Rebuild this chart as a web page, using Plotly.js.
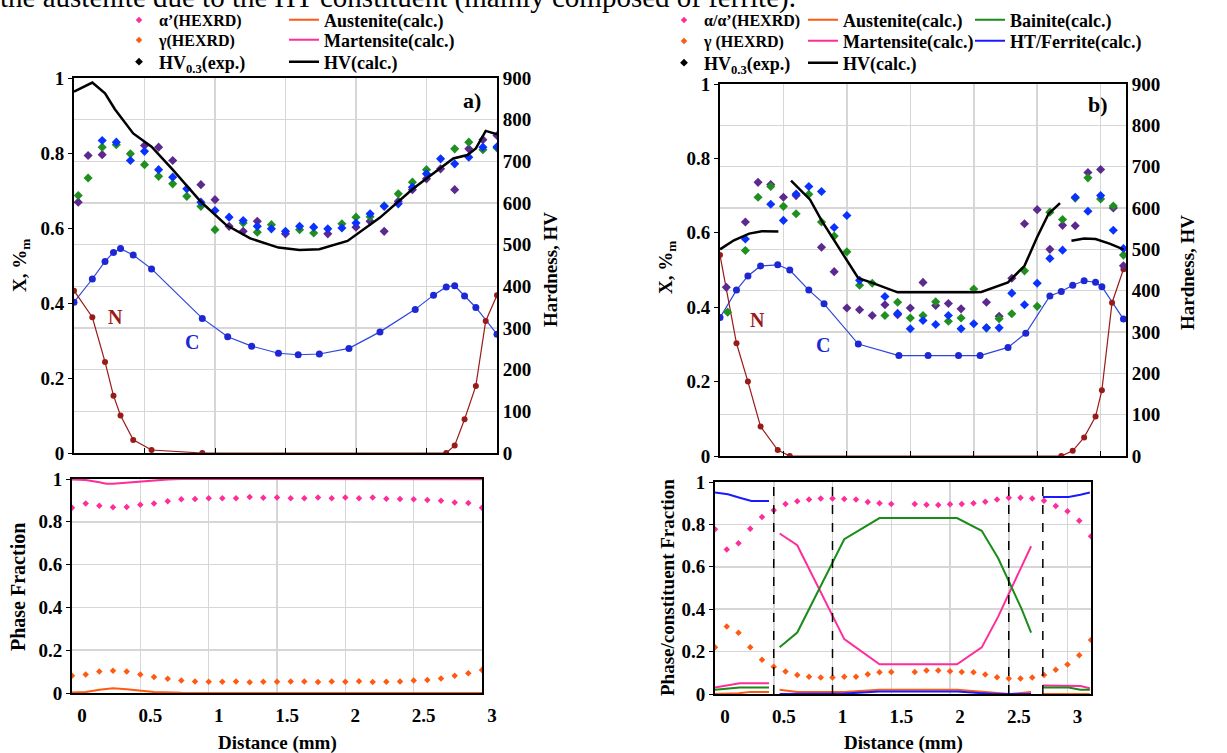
<!DOCTYPE html>
<html><head><meta charset="utf-8">
<script src="https://cdn.plot.ly/plotly-3.0.1.min.js"></script>
<style>html,body{margin:0;padding:0;background:#fff}#chart{width:1227px;height:753px}</style>
</head><body><div id="chart"></div><script>
// ---------------- DATA: panel a) ----------------
const aC_x = [0, 0.13, 0.22, 0.28, 0.33, 0.42, 0.55, 0.91, 1.09, 1.26, 1.45, 1.59, 1.74, 1.95, 2.17, 2.42, 2.55, 2.64, 2.70, 2.77, 2.85, 3.0];
const aC_y = [0.402, 0.464, 0.511, 0.535, 0.545, 0.528, 0.491, 0.359, 0.310, 0.285, 0.266, 0.262, 0.264, 0.279, 0.323, 0.383, 0.421, 0.443, 0.446, 0.419, 0.388, 0.317];
const aN_x = [0, 0.13, 0.22, 0.28, 0.33, 0.42, 0.55, 0.91, 2.64, 2.70, 2.77, 2.85, 2.92, 3.0];
const aN_y = [0.433, 0.362, 0.243, 0.153, 0.100, 0.035, 0.008, 0, 0, 0.020, 0.090, 0.179, 0.352, 0.421];
const aHVcalc_x = [0, 0.13, 0.22, 0.29, 0.42, 0.50, 0.55, 0.70, 0.90, 1.08, 1.25, 1.45, 1.60, 1.74, 1.94, 2.17, 2.31, 2.40, 2.50, 2.69, 2.79, 2.85, 2.92, 3.0];
const aHVcalc = [867, 889, 863, 825, 767, 747, 735, 680, 603, 547, 515, 493, 487, 489, 509, 565, 607, 633, 659, 707, 715, 731, 773, 765];
const aHV1_x = [0.03, 0.1, 0.2, 0.5, 0.6, 0.7, 0.9, 1.0, 1.1, 1.2, 1.3, 1.5, 1.8, 2.0, 2.1, 2.2, 2.3, 2.4, 2.5, 2.6, 2.7, 2.8, 2.9, 3.0];
const aHV1 = [602, 714, 716, 738, 734, 702, 644, 608, 544, 532, 556, 526, 526, 542, 556, 532, 604, 632, 658, 682, 632, 730, 752, 762];
const aHV2_x = [0.03, 0.1, 0.2, 0.3, 0.4, 0.5, 0.6, 0.7, 0.8, 0.9, 1.0, 1.2, 1.3, 1.4, 1.6, 1.7, 1.9, 2.0, 2.1, 2.2, 2.3, 2.4, 2.5, 2.7, 2.8, 2.9, 3.0];
const aHV2 = [618, 660, 734, 740, 718, 692, 664, 646, 616, 592, 536, 552, 530, 548, 536, 528, 550, 566, 567, 593, 622, 650, 680, 730, 746, 728, 732];
const aHV3_x = [0.2, 0.3, 0.4, 0.5, 0.6, 0.7, 0.8, 0.9, 1.0, 1.1, 1.2, 1.3, 1.4, 1.5, 1.6, 1.7, 1.8, 1.9, 2.0, 2.1, 2.2, 2.3, 2.4, 2.5, 2.6, 2.7, 2.8, 2.9, 3.0];
const aHV3 = [750, 746, 702, 724, 680, 662, 634, 602, 582, 566, 558, 544, 538, 532, 544, 542, 538, 540, 552, 574, 592, 598, 638, 670, 706, 694, 710, 734, 735];
const aPh_x = [0, 0.1, 0.2, 0.3, 0.4, 0.5, 0.6, 0.7, 0.8, 0.9, 1.0, 1.1, 1.2, 1.3, 1.4, 1.5, 1.6, 1.7, 1.8, 1.9, 2.0, 2.1, 2.2, 2.3, 2.4, 2.5, 2.6, 2.7, 2.8, 2.9, 3.0];
const aAlpha = [0.866, 0.885, 0.875, 0.868, 0.869, 0.880, 0.886, 0.896, 0.905, 0.907, 0.910, 0.910, 0.910, 0.916, 0.912, 0.913, 0.910, 0.910, 0.914, 0.910, 0.913, 0.910, 0.913, 0.908, 0.907, 0.905, 0.902, 0.898, 0.890, 0.888, 0.866];
const aGamma = [0.081, 0.086, 0.100, 0.104, 0.100, 0.086, 0.075, 0.067, 0.058, 0.054, 0.053, 0.053, 0.054, 0.050, 0.053, 0.053, 0.054, 0.054, 0.051, 0.054, 0.053, 0.055, 0.051, 0.053, 0.054, 0.058, 0.061, 0.068, 0.081, 0.092, 0.107];
const aMart_x = [0, 0.1, 0.2, 0.25, 0.3, 0.4, 0.5, 0.6, 0.7, 0.8, 1.0, 2.5, 2.7, 2.8, 3.0];
const aMart = [0.998, 0.995, 0.985, 0.978, 0.978, 0.983, 0.990, 0.995, 0.998, 1.0, 1.0, 1.0, 0.999, 0.998, 0.999];
const aAust_x = [0, 0.1, 0.2, 0.3, 0.4, 0.5, 0.6, 0.8, 1.0, 2.5, 2.6, 2.7, 2.8, 3.0];
const aAust = [0.002, 0.005, 0.015, 0.022, 0.018, 0.010, 0.005, 0.001, 0, 0, 0.001, 0.001, 0, 0];

// ---------------- DATA: panel b) ----------------
const bC_x = [0, 0.13, 0.22, 0.32, 0.455, 0.55, 0.70, 0.82, 1.09, 1.41, 1.64, 1.88, 2.05, 2.27, 2.41, 2.60, 2.69, 2.78, 2.87, 2.96, 3.01, 3.18];
const bC_y = [0.372, 0.446, 0.484, 0.511, 0.514, 0.500, 0.446, 0.409, 0.301, 0.270, 0.270, 0.270, 0.270, 0.292, 0.330, 0.430, 0.442, 0.459, 0.471, 0.467, 0.455, 0.368];
const bN_x = [0, 0.13, 0.22, 0.32, 0.455, 0.55, 2.69, 2.78, 2.87, 2.96, 3.01, 3.09, 3.18];
const bN_y = [0.540, 0.303, 0.200, 0.079, 0.016, 0, 0, 0.014, 0.050, 0.106, 0.177, 0.412, 0.502];
const bHVcalc_x = [0, 0.11, 0.23, 0.33, 0.46, null, 0.56, 0.71, 0.80, 0.89, 1.09, 1.19, 1.40, 2.0, 2.06, 2.27, 2.40, 2.50, 2.59, 2.68, null, 2.77, 2.87, 2.96, 3.07, 3.18];
const bHVcalc = [500, 522, 538, 544, 543, null, 666, 620, 570, 526, 430, 420, 396, 396, 397, 420, 460, 530, 586, 612, null, 521, 526, 525, 514, 500];
const bHV1_x = [0.05, 0.2, 0.3, 0.4, 0.5, 0.6, 0.8, 0.9, 1.0, 1.1, 1.2, 1.3, 1.4, 1.5, 1.6, 1.7, 1.8, 1.9, 2.1, 2.2, 2.3, 2.4, 2.5, 2.6, 2.7, 2.8, 2.9, 3.0, 3.1, 3.18];
const bHV1 = [408, 566, 662, 657, 626, 630, 505, 446, 358, 354, 340, 366, 342, 358, 420, 364, 369, 356, 372, 338, 430, 562, 596, 500, 558, 557, 686, 693, 600, 460];
const bHV2_x = [0.06, 0.2, 0.3, 0.4, 0.5, 0.6, 0.7, 0.8, 0.9, 1.0, 1.1, 1.2, 1.3, 1.4, 1.5, 1.6, 1.7, 1.8, 1.9, 2.0, 2.1, 2.2, 2.3, 2.4, 2.5, 2.6, 2.7, 2.8, 2.9, 3.0, 3.1, 3.18];
const bHV2 = [348, 497, 626, 652, 604, 586, 633, 566, 532, 494, 413, 418, 340, 372, 334, 340, 373, 326, 334, 404, 310, 332, 344, 448, 362, 590, 572, 624, 673, 622, 605, 486];
const bHV3_x = [0.2, 0.4, 0.5, 0.6, 0.7, 0.8, 0.9, 1.0, 1.1, 1.3, 1.4, 1.5, 1.6, 1.7, 1.8, 1.9, 2.0, 2.1, 2.2, 2.3, 2.4, 2.5, 2.6, 2.7, 2.8, 2.9, 3.0, 3.1, 3.18];
const bHV3 = [525, 609, 570, 634, 652, 640, 553, 582, 425, 386, 345, 308, 328, 318, 340, 308, 320, 310, 310, 394, 366, 418, 478, 498, 626, 592, 630, 546, 502];
const bPh_x = [0, 0.1, 0.2, 0.3, 0.4, 0.5, 0.6, 0.7, 0.8, 0.9, 1.0, 1.1, 1.2, 1.3, 1.4, 1.5, 1.7, 1.8, 1.9, 2.0, 2.1, 2.2, 2.3, 2.4, 2.5, 2.6, 2.7, 2.8, 2.9, 3.0, 3.1, 3.2];
const bAlpha = [0.777, 0.682, 0.711, 0.779, 0.835, 0.867, 0.896, 0.909, 0.918, 0.922, 0.922, 0.920, 0.918, 0.906, 0.900, 0.896, 0.896, 0.893, 0.892, 0.895, 0.896, 0.900, 0.907, 0.918, 0.926, 0.926, 0.922, 0.911, 0.887, 0.862, 0.817, 0.744];
const bGamma = [0.221, 0.318, 0.289, 0.221, 0.161, 0.129, 0.106, 0.090, 0.081, 0.078, 0.078, 0.081, 0.081, 0.093, 0.103, 0.104, 0.104, 0.111, 0.111, 0.107, 0.104, 0.103, 0.092, 0.079, 0.073, 0.073, 0.078, 0.090, 0.114, 0.139, 0.183, 0.255];
const bAust_x = [0, 0.2, 0.3, 0.46, null, 0.55, 0.70, 1.10, 1.40, 2.06, 2.27, 2.51, 2.69, null, 2.79, 3.19];
const bAust = [0, 0.003, 0.010, 0.010, null, 0.020, 0.009, 0.009, 0.020, 0.020, 0.012, 0, 0.009, null, 0, 0];
const bMart_x = [0, 0.21, 0.46, null, 0.55, 0.70, 1.10, 1.40, 2.06, 2.27, 2.41, 2.61, 2.69, null, 2.79, 3.01, 3.11, 3.19];
const bMart = [0.031, 0.051, 0.051, null, 0.757, 0.702, 0.259, 0.140, 0.140, 0.220, 0.365, 0.608, 0.697, null, 0.040, 0.040, 0.038, 0.027];
const bBain_x = [0, 0.21, 0.46, null, 0.55, 0.70, 1.10, 1.40, 2.06, 2.27, 2.41, 2.61, 2.69, null, 2.79, 3.01, 3.11, 3.19];
const bBain = [0.020, 0.031, 0.031, null, 0.22, 0.29, 0.73, 0.83, 0.83, 0.77, 0.64, 0.40, 0.29, null, 0.031, 0.031, 0.020, 0.020];
const bHT_x = [0, 0.11, 0.21, 0.31, 0.46, null, 0.55, 1.10, 1.40, 2.06, 2.27, 2.41, 2.69, null, 2.79, 3.01, 3.11, 3.19];
const bHT = [0.950, 0.942, 0.926, 0.910, 0.910, null, 0, 0.002, 0.012, 0.012, 0.004, 0, 0, null, 0.929, 0.929, 0.940, 0.950];
const bZoneBounds = [0.5, 1.0, 2.5, 2.79];

const xTicks = [0, 0.5, 1, 1.5, 2, 2.5, 3];
const xTickText = ['0', '0.5', '1', '1.5', '2', '2.5', '3'];
const yTicks = [0, 0.2, 0.4, 0.6, 0.8, 1];
const yTickText = ['0', '0.2', '0.4', '0.6', '0.8', '1'];
const hvTicks = [0, 100, 200, 300, 400, 500, 600, 700, 800, 900];

// ---------------- STYLE ----------------
const W = 1227, H = 753;
const F = 'Liberation Serif, Times New Roman, serif';
const C_PURPLE = '#5c2a8e', C_GREEN = '#1f8f1f', C_BLUE = '#0a32ff';
const C_MAG = '#ff2d9a', C_ORG = '#ff5a14', C_NRED = '#9a1a1a', C_CBLUE = '#1d27d4';
const px = p => p / W, py = p => 1 - p / H;

const traces = [];
function hvExp(x, y, col, xa, ya) {
  traces.push({x, y, xaxis: xa, yaxis: ya, mode: 'markers', type: 'scatter', showlegend: false,
    marker: {symbol: 'diamond', size: 7, color: col}, hoverinfo: 'skip'});
}
// panel a top
hvExp(aHV1_x, aHV1, C_PURPLE, 'x', 'y2');
hvExp(aHV2_x, aHV2, C_GREEN, 'x', 'y2');
hvExp(aHV3_x, aHV3, C_BLUE, 'x', 'y2');
traces.push({x: aHVcalc_x, y: aHVcalc, xaxis: 'x', yaxis: 'y2', mode: 'lines', name: 'HV(calc.)',
  line: {color: '#000', width: 2.5}, legend: 'legend6'});
traces.push({x: aC_x, y: aC_y, xaxis: 'x', yaxis: 'y', mode: 'lines+markers', showlegend: false,
  line: {color: '#2d45e0', width: 1.2}, marker: {size: 7, color: C_CBLUE}});
traces.push({x: aN_x, y: aN_y, xaxis: 'x', yaxis: 'y', mode: 'lines+markers', showlegend: false,
  line: {color: C_NRED, width: 1.2}, marker: {size: 6, color: C_NRED}});
// panel a bottom
traces.push({x: aPh_x, y: aAlpha, xaxis: 'x2', yaxis: 'y3', mode: 'markers', name: 'α’(HEXRD)',
  marker: {symbol: 'diamond', size: 5, color: C_MAG}, legend: 'legend'});
traces.push({x: aPh_x, y: aGamma, xaxis: 'x2', yaxis: 'y3', mode: 'markers', name: 'γ(HEXRD)',
  marker: {symbol: 'diamond', size: 5, color: C_ORG}, legend: 'legend2'});
traces.push({x: [null], y: [null], xaxis: 'x2', yaxis: 'y3', mode: 'markers', name: 'HV<sub>0.3</sub>(exp.)',
  marker: {symbol: 'diamond', size: 6, color: '#000'}, legend: 'legend3'});
traces.push({x: aAust_x, y: aAust, xaxis: 'x2', yaxis: 'y3', mode: 'lines', name: 'Austenite(calc.)',
  line: {color: C_ORG, width: 2}, legend: 'legend4'});
traces.push({x: aMart_x, y: aMart, xaxis: 'x2', yaxis: 'y3', mode: 'lines', name: 'Martensite(calc.)',
  line: {color: C_MAG, width: 2}, legend: 'legend5'});
// panel b top
hvExp(bHV1_x, bHV1, C_PURPLE, 'x3', 'y5');
hvExp(bHV2_x, bHV2, C_GREEN, 'x3', 'y5');
hvExp(bHV3_x, bHV3, C_BLUE, 'x3', 'y5');
traces.push({x: bHVcalc_x, y: bHVcalc, xaxis: 'x3', yaxis: 'y5', mode: 'lines', name: 'HV(calc.)',
  line: {color: '#000', width: 2.5}, connectgaps: false, legend: 'legend12'});
traces.push({x: bC_x, y: bC_y, xaxis: 'x3', yaxis: 'y4', mode: 'lines+markers', showlegend: false,
  line: {color: '#2d45e0', width: 1.2}, marker: {size: 7, color: C_CBLUE}});
traces.push({x: bN_x, y: bN_y, xaxis: 'x3', yaxis: 'y4', mode: 'lines+markers', showlegend: false,
  line: {color: C_NRED, width: 1.2}, marker: {size: 6, color: C_NRED}});
// panel b bottom
traces.push({x: bPh_x, y: bAlpha, xaxis: 'x4', yaxis: 'y6', mode: 'markers', name: 'α/α’(HEXRD)',
  marker: {symbol: 'diamond', size: 5, color: C_MAG}, legend: 'legend7'});
traces.push({x: bPh_x, y: bGamma, xaxis: 'x4', yaxis: 'y6', mode: 'markers', name: 'γ (HEXRD)',
  marker: {symbol: 'diamond', size: 5, color: C_ORG}, legend: 'legend8'});
traces.push({x: [null], y: [null], xaxis: 'x4', yaxis: 'y6', mode: 'markers', name: 'HV<sub>0.3</sub>(exp.)',
  marker: {symbol: 'diamond', size: 6, color: '#000'}, legend: 'legend9'});
traces.push({x: bAust_x, y: bAust, xaxis: 'x4', yaxis: 'y6', mode: 'lines', name: 'Austenite(calc.)',
  line: {color: C_ORG, width: 2}, connectgaps: false, legend: 'legend10'});
traces.push({x: bMart_x, y: bMart, xaxis: 'x4', yaxis: 'y6', mode: 'lines', name: 'Martensite(calc.)',
  line: {color: C_MAG, width: 2}, connectgaps: false, legend: 'legend11'});
traces.push({x: bBain_x, y: bBain, xaxis: 'x4', yaxis: 'y6', mode: 'lines', name: 'Bainite(calc.)',
  line: {color: '#1a8c1a', width: 2}, connectgaps: false, legend: 'legend13'});
traces.push({x: bHT_x, y: bHT, xaxis: 'x4', yaxis: 'y6', mode: 'lines', name: 'HT/Ferrite(calc.)',
  line: {color: '#1a1aff', width: 2}, connectgaps: false, legend: 'legend14'});

const tickFont = {family: F, size: 19, color: '#000', weight: 'bold'};
const GRID = '#d6d6d6';
function xax(d0, d1, rng, anchor, labels) {
  return {domain: [px(d0), px(d1)], range: rng, anchor, tickmode: 'array', tickvals: xTicks,
    ticktext: xTickText, showticklabels: labels, tickfont: tickFont, ticklabelshift: 10, ticklabelstandoff: 4,
    ticks: labels ? '' : 'inside', ticklen: 5, tickcolor: '#000',
    showgrid: true, gridcolor: GRID, gridwidth: 1.5, zeroline: false,
    showline: true, mirror: true, linecolor: '#000', linewidth: 2};
}
function yax(t0, t1, anchor, grid) {
  return {domain: [py(t1), py(t0)], range: [0, 1], anchor, tickmode: 'array', tickvals: yTicks, ticktext: yTickText,
    tickfont: tickFont, ticks: 'outside', ticklen: 4, tickcolor: '#000',
    showgrid: grid, gridcolor: GRID, gridwidth: 1.5, zeroline: false,
    showline: true, mirror: true, linecolor: '#000', linewidth: 2};
}
function hvax(over, anchor) {
  return {overlaying: over, anchor, side: 'right', range: [0, 900], tickmode: 'array', tickvals: hvTicks,
    tickfont: tickFont, ticks: '', showgrid: true, gridcolor: GRID, gridwidth: 1.5, zeroline: false,
    showline: true, linecolor: '#000', linewidth: 2};
}

const legBig = {family: F, size: 18, color: '#000', weight: 'bold'};
const legSmall = {family: F, size: 16, color: '#000', weight: 'bold'};
// [left px of entry, centre py of row, font]
const legPos = {
  legend: [119, 20, legSmall], legend2: [119, 40, legSmall], legend3: [119, 62, legBig],
  legend4: [284, 20, legBig], legend5: [284, 40, legBig], legend6: [284, 62, legBig],
  legend7: [664, 20, legSmall], legend8: [664, 41, legSmall], legend9: [664, 63, legBig],
  legend10: [803, 20, legBig], legend11: [803, 41, legBig], legend12: [803, 63, legBig],
  legend13: [970, 20, legBig], legend14: [970, 41, legBig]
};

const layout = {
  width: W, height: H, margin: {l: 0, r: 0, t: 0, b: 0},
  paper_bgcolor: '#fff', plot_bgcolor: '#fff',
  font: {family: F, color: '#000'},
  xaxis: xax(74, 497, [0, 3], 'y', false),
  yaxis: yax(78, 453, 'x', false),
  yaxis2: hvax('y', 'x'),
  xaxis2: xax(72, 482, [0, 3], 'y3', true),
  yaxis3: yax(479, 693, 'x2', true),
  xaxis3: xax(720, 1126, [0, 3.2], 'y4', false),
  yaxis4: yax(84, 456, 'x3', false),
  yaxis5: hvax('y4', 'x3'),
  xaxis4: xax(715, 1091, [0, 3.2], 'y6', true),
  yaxis6: yax(482, 694, 'x4', true),
  shapes: bZoneBounds.map(v => ({type: 'line', xref: 'x4', yref: 'y6 domain', x0: v, x1: v, y0: 0, y1: 1,
    line: {color: '#000', width: 1.5, dash: 'dash'}})),
  annotations: [],
  hovermode: false
};
Object.keys(legPos).forEach(k => {
  layout[k] = {x: px(legPos[k][0]), y: py(legPos[k][1]), xanchor: 'left', yanchor: 'middle',
    bgcolor: 'rgba(0,0,0,0)', font: legPos[k][2], itemwidth: 30, borderwidth: 0};
});
function ann(text, x, y, size, opts) {
  layout.annotations.push(Object.assign({text, xref: 'paper', yref: 'paper', x: px(x), y: py(y),
    xanchor: 'center', yanchor: 'middle',
    showarrow: false, font: {family: F, size, color: '#000', weight: 'bold'}}, opts || {}));
}
ann('the austenite due to the HT constituent (mainly composed of ferrite).', -2, 16, 29,
  {xanchor: 'left', yanchor: 'bottom', font: {family: F, size: 29, color: '#000'}});
ann('X, %<sub>m</sub>', 21, 266, 19, {textangle: -90});
ann('X, %<sub>m</sub>', 667, 268, 19, {textangle: -90});
ann('Hardness, HV', 550, 270, 19, {textangle: -90});
ann('Hardness, HV', 1187, 273, 19, {textangle: -90});
ann('Phase Fraction', 18, 587, 20, {textangle: -90});
ann('Phase/constituent Fraction', 667, 588, 19, {textangle: -90});
ann('Distance (mm)', 277, 743, 19);
ann('Distance (mm)', 903, 743, 19);
ann('a)', 472, 100, 22);
ann('b)', 1098, 105, 22);
ann('N', 115, 317, 20, {font: {family: F, size: 20, color: C_NRED, weight: 'bold'}});
ann('C', 192, 342, 20, {font: {family: F, size: 20, color: C_CBLUE, weight: 'bold'}});
ann('N', 757, 320, 20, {font: {family: F, size: 20, color: C_NRED, weight: 'bold'}});
ann('C', 823, 345, 20, {font: {family: F, size: 20, color: C_CBLUE, weight: 'bold'}});

Plotly.newPlot('chart', traces, layout, {staticPlot: true, displayModeBar: false});
</script></body></html>
